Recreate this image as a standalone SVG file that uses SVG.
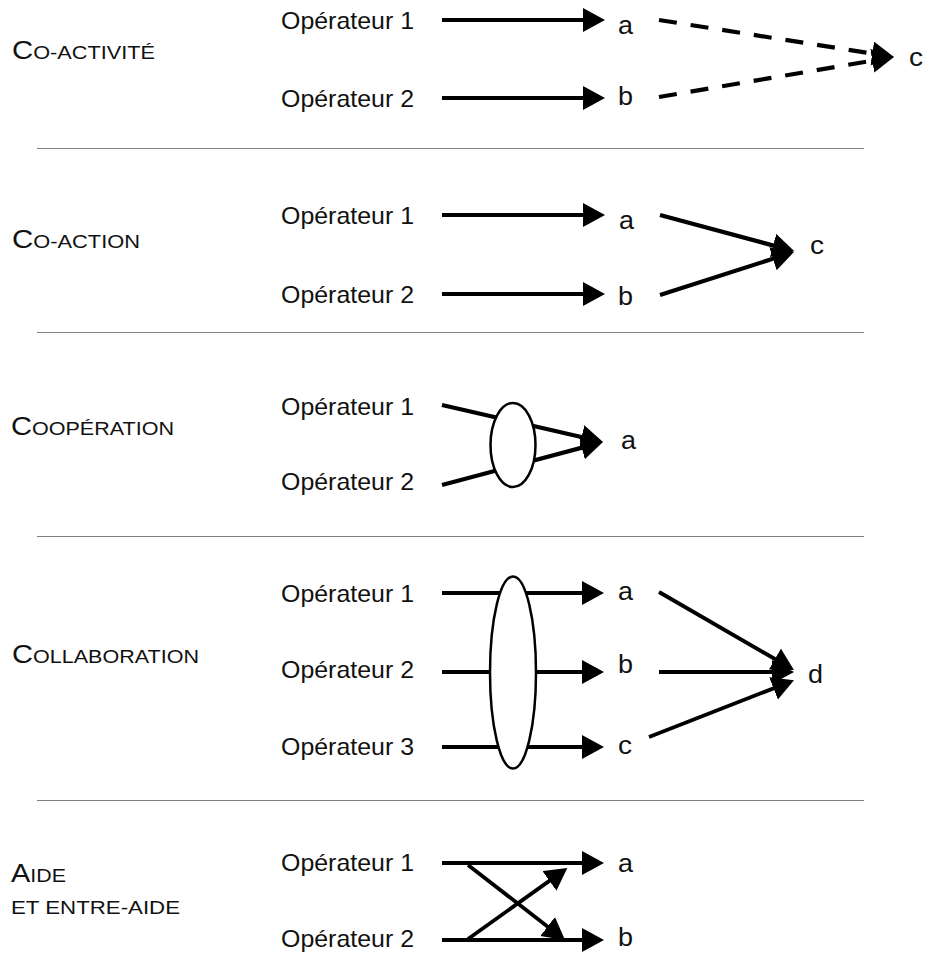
<svg xmlns="http://www.w3.org/2000/svg" width="925" height="953" viewBox="0 0 925 953">
<defs>
<marker id="ah" markerUnits="userSpaceOnUse" markerWidth="24" markerHeight="26" refX="12" refY="12" orient="auto" viewBox="0 0 24 26">
<path d="M0,0 L22,12 L0,24 Z" fill="#000"/>
</marker>
</defs>
<style>
text{font-family:"Liberation Sans",Arial,Helvetica,sans-serif;fill:#111}
.sec{font-size:25px}
.sm{font-size:18.5px}
.op{font-size:24px}
.lt{font-size:26px}
.sep{stroke:#808080;stroke-width:1.2;fill:none}
.ar{stroke:#000;stroke-width:4.2;fill:none;marker-end:url(#ah)}
.dg{stroke:#000;stroke-width:3.8;fill:none;marker-end:url(#ah)}
.dash{stroke:#000;stroke-width:4.2;fill:none;stroke-dasharray:18 14;marker-end:url(#ah)}
.ell{fill:#fff;stroke:#000;stroke-width:2.5}
</style>
<rect width="925" height="953" fill="#fff"/>

<g id="separators">
<line class="sep" x1="37" y1="148.5" x2="864" y2="148.5"/>
<line class="sep" x1="37" y1="332.5" x2="864" y2="332.5"/>
<line class="sep" x1="37" y1="536.5" x2="864" y2="536.5"/>
<line class="sep" x1="37" y1="800.5" x2="864" y2="800.5"/>
</g>

<g id="connectors">
<line class="ar" x1="442" y1="20" x2="595" y2="20"/>
<line class="ar" x1="442" y1="98" x2="595" y2="98"/>
<line class="dash" x1="659" y1="20" x2="884.1" y2="55.4"/>
<line class="dash" x1="659" y1="97" x2="884.1" y2="58.7"/>
<line class="ar" x1="442" y1="215" x2="595" y2="215"/>
<line class="ar" x1="442" y1="294" x2="595" y2="294"/>
<line class="ar" x1="660" y1="215" x2="784.7" y2="248.6"/>
<line class="ar" x1="660" y1="295" x2="784.4" y2="255.1"/>
<line class="ar" x1="442" y1="405" x2="593.3" y2="439.7"/>
<line class="ar" x1="442" y1="485" x2="593.3" y2="444.6"/>
<line class="ar" x1="442" y1="593" x2="594" y2="593"/>
<line class="ar" x1="442" y1="672" x2="594" y2="672"/>
<line class="ar" x1="442" y1="747" x2="594" y2="747"/>
<line class="dg" x1="659" y1="592" x2="785.3" y2="665"/>
<line class="dg" x1="659" y1="672" x2="784" y2="672"/>
<line class="dg" x1="649" y1="737" x2="784.7" y2="684"/>
<line class="ar" x1="442" y1="863" x2="594" y2="863"/>
<line class="ar" x1="442" y1="940" x2="594" y2="940"/>
<line class="dg" x1="468" y1="865" x2="557.1" y2="933.9"/>
<line class="dg" x1="468" y1="939" x2="559.2" y2="873.9"/>
</g>

<g id="sec-coactivite">
<text x="12" y="59" textLength="143" lengthAdjust="spacingAndGlyphs"><tspan class="sec">C</tspan><tspan class="sm">O-ACTIVITÉ</tspan></text>
</g>
<g id="s1-op1"><text class="op" x="281" y="29" textLength="133" lengthAdjust="spacingAndGlyphs">Opérateur 1</text></g>
<g id="s1-op2"><text class="op" x="281" y="107" textLength="133" lengthAdjust="spacingAndGlyphs">Opérateur 2</text></g>
<g id="s1-a"><text class="lt" x="618" y="34" textLength="15" lengthAdjust="spacingAndGlyphs">a</text></g>
<g id="s1-b"><text class="lt" x="618" y="105" textLength="15" lengthAdjust="spacingAndGlyphs">b</text></g>
<g id="s1-c"><text class="lt" x="909" y="66" textLength="14" lengthAdjust="spacingAndGlyphs">c</text></g>

<g id="sec-coaction">
<text x="12" y="248" textLength="128" lengthAdjust="spacingAndGlyphs"><tspan class="sec">C</tspan><tspan class="sm">O-ACTION</tspan></text>
</g>
<g id="s2-op1"><text class="op" x="281" y="224" textLength="133" lengthAdjust="spacingAndGlyphs">Opérateur 1</text></g>
<g id="s2-op2"><text class="op" x="281" y="303" textLength="133" lengthAdjust="spacingAndGlyphs">Opérateur 2</text></g>
<g id="s2-a"><text class="lt" x="619" y="229" textLength="15" lengthAdjust="spacingAndGlyphs">a</text></g>
<g id="s2-b"><text class="lt" x="618" y="305" textLength="15" lengthAdjust="spacingAndGlyphs">b</text></g>
<g id="s2-c"><text class="lt" x="810" y="254" textLength="14" lengthAdjust="spacingAndGlyphs">c</text></g>

<g id="sec-cooperation">
<text x="11" y="435" textLength="163" lengthAdjust="spacingAndGlyphs"><tspan class="sec">C</tspan><tspan class="sm">OOPÉRATION</tspan></text>
</g>
<g id="s3-op1"><text class="op" x="281" y="415" textLength="133" lengthAdjust="spacingAndGlyphs">Opérateur 1</text></g>
<g id="s3-op2"><text class="op" x="281" y="490" textLength="133" lengthAdjust="spacingAndGlyphs">Opérateur 2</text></g>
<g id="s3-ellipse"><ellipse class="ell" cx="513" cy="445" rx="22.5" ry="42"/></g>
<g id="s3-a"><text class="lt" x="621" y="449" textLength="15" lengthAdjust="spacingAndGlyphs">a</text></g>

<g id="sec-collaboration">
<text x="12" y="663" textLength="187" lengthAdjust="spacingAndGlyphs"><tspan class="sec">C</tspan><tspan class="sm">OLLABORATION</tspan></text>
</g>
<g id="s4-op1"><text class="op" x="281" y="602" textLength="133" lengthAdjust="spacingAndGlyphs">Opérateur 1</text></g>
<g id="s4-op2"><text class="op" x="281" y="678" textLength="133" lengthAdjust="spacingAndGlyphs">Opérateur 2</text></g>
<g id="s4-op3"><text class="op" x="281" y="755" textLength="133" lengthAdjust="spacingAndGlyphs">Opérateur 3</text></g>
<g id="s4-ellipse"><ellipse class="ell" cx="513" cy="672.5" rx="23" ry="96"/></g>
<g id="s4-a"><text class="lt" x="618" y="600" textLength="15" lengthAdjust="spacingAndGlyphs">a</text></g>
<g id="s4-b"><text class="lt" x="618" y="673" textLength="15" lengthAdjust="spacingAndGlyphs">b</text></g>
<g id="s4-c"><text class="lt" x="618" y="754" textLength="14" lengthAdjust="spacingAndGlyphs">c</text></g>
<g id="s4-d"><text class="lt" x="808" y="683" textLength="15" lengthAdjust="spacingAndGlyphs">d</text></g>

<g id="sec-aide">
<text x="11" y="882" textLength="55" lengthAdjust="spacingAndGlyphs"><tspan class="sec">A</tspan><tspan class="sm">IDE</tspan></text>
<text class="sm" x="11" y="914" textLength="169" lengthAdjust="spacingAndGlyphs">ET ENTRE-AIDE</text>
</g>
<g id="s5-op1"><text class="op" x="281" y="871" textLength="133" lengthAdjust="spacingAndGlyphs">Opérateur 1</text></g>
<g id="s5-op2"><text class="op" x="281" y="947" textLength="133" lengthAdjust="spacingAndGlyphs">Opérateur 2</text></g>
<g id="s5-a"><text class="lt" x="618" y="872" textLength="15" lengthAdjust="spacingAndGlyphs">a</text></g>
<g id="s5-b"><text class="lt" x="618" y="946" textLength="15" lengthAdjust="spacingAndGlyphs">b</text></g>
</svg>
